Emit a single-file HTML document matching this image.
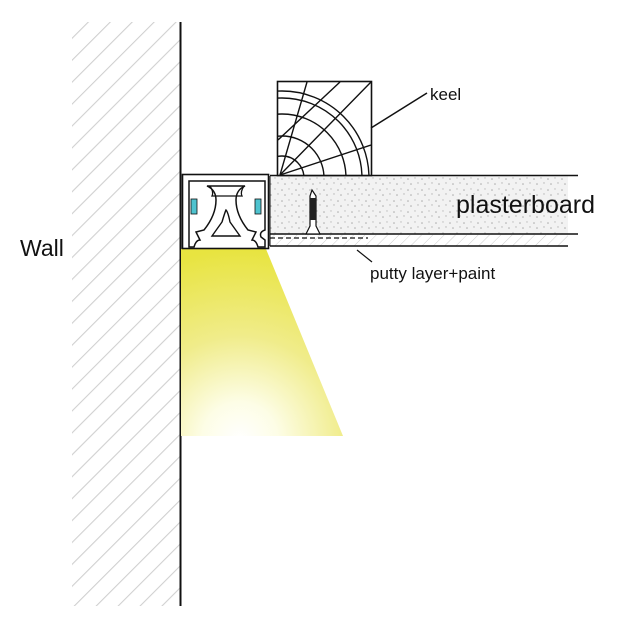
<!DOCTYPE html>
<html><head><meta charset="utf-8"><style>
html,body{margin:0;padding:0;background:#fff;}
svg{display:block;}
text{font-family:"Liberation Sans",sans-serif;fill:#111;}
</style></head><body>
<svg width="642" height="620" viewBox="0 0 642 620" xmlns="http://www.w3.org/2000/svg">
<defs>
<pattern id="hatch" patternUnits="userSpaceOnUse" width="15.5" height="15.5" patternTransform="rotate(45)">
<line x1="0" y1="0" x2="0" y2="15.5" stroke="#d0d0d0" stroke-width="2.2"/>
</pattern>
<pattern id="hatch2" patternUnits="userSpaceOnUse" width="8" height="8" patternTransform="rotate(45)">
<line x1="0" y1="0" x2="0" y2="8" stroke="#ccc" stroke-width="1"/>
</pattern>
<pattern id="speck" patternUnits="userSpaceOnUse" width="14" height="11">
<rect width="14" height="11" fill="#f2f2f2"/>
<circle cx="2" cy="3" r="0.8" fill="#aaa"/><circle cx="9" cy="2" r="0.7" fill="#bbb"/>
<circle cx="5" cy="8" r="0.8" fill="#aaa"/><circle cx="12" cy="7" r="0.7" fill="#b4b4b4"/>
</pattern>
<radialGradient id="light" cx="240" cy="440" r="190" gradientUnits="userSpaceOnUse">
<stop offset="0" stop-color="#ffffff"/>
<stop offset="0.2" stop-color="#fdfde6"/>
<stop offset="0.55" stop-color="#f0ec8a"/>
<stop offset="1" stop-color="#e8e440"/>
</radialGradient>
</defs>
<rect x="72" y="22" width="108" height="584" fill="url(#hatch)"/>
<line x1="180.5" y1="22" x2="180.5" y2="606" stroke="#111" stroke-width="2"/>
<polygon points="181,249 266,249 343,436 181,436" fill="url(#light)"/>
<rect x="270" y="176" width="298" height="58" fill="url(#speck)"/>
<rect x="270" y="235" width="298" height="11" fill="url(#hatch2)"/>
<line x1="270" y1="175.5" x2="578" y2="175.5" stroke="#111" stroke-width="1.6"/>
<line x1="270" y1="234" x2="578" y2="234" stroke="#111" stroke-width="1.6"/>
<line x1="270" y1="238" x2="368" y2="238" stroke="#111" stroke-width="1.3" stroke-dasharray="5,3"/>
<line x1="270" y1="246" x2="568" y2="246" stroke="#111" stroke-width="1.6"/>
<line x1="270" y1="176" x2="270" y2="246" stroke="#111" stroke-width="1"/>
<path d="M312 190 L316 196 L316 226 L320 234 L306 234 L310 226 L310 196 Z" fill="#fff" stroke="#111" stroke-width="1.2"/>
<rect x="310" y="198" width="6" height="22" fill="#222"/>
<rect x="277.5" y="81.5" width="94" height="94" fill="#fff" stroke="#111" stroke-width="1.6"/>
<g fill="none" stroke="#111" stroke-width="1.4">
<clipPath id="kc"><rect x="278" y="82" width="93" height="93"/></clipPath>
<g clip-path="url(#kc)">
<circle cx="282" cy="178" r="22"/><circle cx="282" cy="178" r="42"/><circle cx="282" cy="178" r="64"/>
<circle cx="282" cy="178" r="80"/><circle cx="282" cy="178" r="87"/>
<line x1="280" y1="175" x2="307" y2="82"/><line x1="280" y1="175" x2="371" y2="82"/>
<line x1="280" y1="175" x2="371" y2="145"/><line x1="278" y1="140" x2="340" y2="82"/>
</g></g>
<line x1="371" y1="128" x2="427" y2="93" stroke="#111" stroke-width="1.5"/>
<text x="430" y="100" font-size="17">keel</text>
<text x="456" y="213" font-size="25">plasterboard</text>
<line x1="357" y1="250" x2="372" y2="262" stroke="#111" stroke-width="1.2"/>
<text x="370" y="279" font-size="17">putty layer+paint</text>
<text x="20" y="256" font-size="23">Wall</text>
<rect x="182.5" y="174.5" width="86" height="74" fill="#fff" stroke="#111" stroke-width="1.6"/>
<path d="M189 181 L265 181 L265 230 Q259 232 261 237 L265 240 L265 247 L258 247 Q256 240 252 240 L256 232 L248 230 Q236 215 236 200 Q236 190 245 186 L207 186 Q216 190 216 200 Q216 215 204 230 L196 232 L200 240 Q196 240 194 247 L189 247 Z" fill="#fff" stroke="#111" stroke-width="1.5"/>
<path d="M210 186 Q214 192 212 196 L242 196 Q240 192 244 186" fill="none" stroke="#111" stroke-width="1.3"/>
<path d="M212 236 L222 222 Q225 212 226 210 Q228 212 230 222 L240 236 Z" fill="#fff" stroke="#111" stroke-width="1.4"/>
<rect x="191" y="199" width="6" height="15" fill="#4ec3cf" stroke="#111" stroke-width="0.8"/>
<rect x="255" y="199" width="6" height="15" fill="#4ec3cf" stroke="#111" stroke-width="0.8"/>
</svg>
</body></html>
